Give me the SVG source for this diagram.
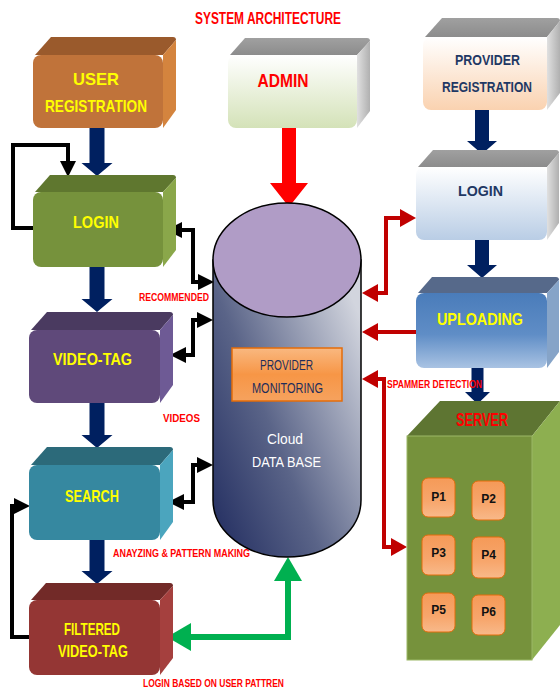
<svg xmlns="http://www.w3.org/2000/svg" width="560" height="691" viewBox="0 0 560 691">
<style>
.t{font-family:"Liberation Sans",Arial,sans-serif;text-anchor:middle}
.y{fill:#FFFF00;font-size:17px;font-weight:bold}
.nv{fill:#1F3864;font-size:15px;font-weight:bold}
.lbl{font-family:"Liberation Sans",Arial,sans-serif;fill:#FF0000;font-size:10px;font-weight:bold}
.p{font-family:"Liberation Sans",Arial,sans-serif;font-size:12px;font-weight:bold;fill:#111;text-anchor:middle}
.nav{fill:#002060}
.blk{fill:none;stroke:#000;stroke-width:4}
.red{fill:none;stroke:#C00000;stroke-width:4}
.grn{fill:none;stroke:#00B050;stroke-width:6}
.pb{fill:url(#gP);stroke:#E46C0A;stroke-width:1}
</style>
<defs>
<marker id="mb" viewBox="0 0 16 16" refX="8" refY="8" markerWidth="16" markerHeight="16" markerUnits="userSpaceOnUse" orient="auto-start-reverse"><path d="M0,0 L16,8 L0,16 Z" fill="#000"/></marker>
<marker id="mr" viewBox="0 0 16 18" refX="8" refY="9" markerWidth="16" markerHeight="18" markerUnits="userSpaceOnUse" orient="auto-start-reverse"><path d="M0,0 L16,9 L0,18 Z" fill="#C00000"/></marker>
<marker id="mg" viewBox="0 0 24 28" refX="12" refY="14" markerWidth="24" markerHeight="28" markerUnits="userSpaceOnUse" orient="auto-start-reverse"><path d="M0,0 L24,14 L0,28 Z" fill="#00B050"/></marker>
<linearGradient id="gAdmin" x1="0" y1="0" x2="0" y2="1"><stop offset="0" stop-color="#FFFFFF"/><stop offset="1" stop-color="#D4E2B8"/></linearGradient>
<linearGradient id="gPR" x1="0" y1="0" x2="0" y2="1"><stop offset="0" stop-color="#FFFFFF"/><stop offset="1" stop-color="#FAD2B0"/></linearGradient>
<linearGradient id="gLR" x1="0" y1="0" x2="0" y2="1"><stop offset="0" stop-color="#FFFFFF"/><stop offset="1" stop-color="#B9CDE5"/></linearGradient>
<linearGradient id="gUp" x1="0" y1="0" x2="0" y2="1"><stop offset="0" stop-color="#4A7CBA"/><stop offset="0.55" stop-color="#5F8DC6"/><stop offset="1" stop-color="#A9C3E3"/></linearGradient>
<linearGradient id="gGreyTop" x1="0" y1="0" x2="0" y2="1"><stop offset="0" stop-color="#A0A0A0"/><stop offset="1" stop-color="#8C8C8C"/></linearGradient>
<linearGradient id="gGreySide" x1="0" y1="0" x2="1" y2="0"><stop offset="0" stop-color="#E0E0E0"/><stop offset="1" stop-color="#B0B0B0"/></linearGradient>
<linearGradient id="gCyl" x1="0" y1="1" x2="1" y2="0.2"><stop offset="0" stop-color="#1F2A5E"/><stop offset="0.45" stop-color="#5A6488"/><stop offset="1" stop-color="#D2D5DE"/></linearGradient>
<linearGradient id="gMon" x1="0" y1="0" x2="0" y2="1"><stop offset="0" stop-color="#F9B880"/><stop offset="0.5" stop-color="#F79646"/><stop offset="1" stop-color="#F6A25E"/></linearGradient>
<linearGradient id="gP" x1="0" y1="0" x2="0" y2="1"><stop offset="0" stop-color="#F59A58"/><stop offset="0.6" stop-color="#F7A66C"/><stop offset="1" stop-color="#F8B98A"/></linearGradient>
</defs>

<text x="268" y="24" font-family="'Liberation Sans',Arial,sans-serif" font-size="16" font-weight="bold" fill="#FF0000" text-anchor="middle" textLength="146" lengthAdjust="spacingAndGlyphs">SYSTEM ARCHITECTURE</text>

<g id="connectors">
<path class="nav" d="M89.5,128 L104.5,128 L104.5,163 L112.5,163 L97,176 L81.5,163 L89.5,163 Z"/>
<path class="nav" d="M89.5,267 L104.5,267 L104.5,299 L112.5,299 L97,312 L81.5,299 L89.5,299 Z"/>
<path class="nav" d="M89.5,403 L104.5,403 L104.5,435 L112.5,435 L97,448 L81.5,435 L89.5,435 Z"/>
<path class="nav" d="M89.5,540 L104.5,540 L104.5,571 L112.5,571 L97,584 L81.5,571 L89.5,571 Z"/>
<path class="nav" d="M475,110 L489,110 L489,141 L497,141 L482,154 L467,141 L475,141 Z"/>
<path class="nav" d="M475,240 L489,240 L489,265 L497,265 L482,278 L467,265 L475,265 Z"/>
<path class="nav" d="M471.5,368 L483.5,368 L483.5,392 L490,392 L477.5,404 L465,392 L471.5,392 Z"/>
<path fill="#FF0000" d="M282,128 L296,128 L296,183 L308,183 L289,207 L270,183 L282,183 Z"/>
<path class="blk" d="M174,230 L193,230 L193,282 L206,282" marker-start="url(#mb)" marker-end="url(#mb)"/>
<path class="blk" d="M205,320 L193,320 L193,355 L178,355" marker-start="url(#mb)" marker-end="url(#mb)"/>
<path class="blk" d="M205,465 L193,465 L193,502 L176,502" marker-start="url(#mb)" marker-end="url(#mb)"/>
<path class="blk" d="M33,228 L13,228 L13,145 L68,145 L68,169" marker-end="url(#mb)"/>
<path class="blk" d="M29,637 L12,637 L12,506 L22,506" marker-end="url(#mb)"/>
<path class="red" d="M370,293 L386,293 L386,218 L408,218" marker-start="url(#mr)" marker-end="url(#mr)"/>
<path class="red" d="M416,332 L370,332" marker-end="url(#mr)"/>
<path class="red" d="M370,379 L384,379 L384,547 L399,547" marker-start="url(#mr)" marker-end="url(#mr)"/>
<path class="grn" d="M288,569 L288,637 L179,637" marker-start="url(#mg)" marker-end="url(#mg)"/>
<text class="lbl" x="139" y="301" textLength="70" lengthAdjust="spacingAndGlyphs">RECOMMENDED</text>
<text class="lbl" x="163" y="422" textLength="37" lengthAdjust="spacingAndGlyphs">VIDEOS</text>
<text class="lbl" x="113" y="557" textLength="137" lengthAdjust="spacingAndGlyphs">ANAYZING &amp; PATTERN  MAKING</text>
<text class="lbl" x="143" y="687" textLength="141" lengthAdjust="spacingAndGlyphs">LOGIN BASED  ON USER PATTREN</text>
<text class="lbl" x="387" y="388" font-weight="normal" textLength="95" lengthAdjust="spacingAndGlyphs">SPAMMER DETECTION</text>
</g>

<g id="user-registration">
<path d="M35,55 L51,37 L173,37 Q176,37 176,40 L163,55 Z" fill="#9A5A2C"/>
<path d="M163,55 L176,40 L176,110 L163,128 Z" fill="#D4843E"/>
<rect x="33" y="55" width="130" height="73" rx="8" fill="#C0733A"/>
<text class="t y" x="96" y="85" textLength="46" lengthAdjust="spacingAndGlyphs">USER</text>
<text class="t y" x="96" y="112" textLength="102" lengthAdjust="spacingAndGlyphs">REGISTRATION</text>
</g>

<g id="login-user">
<path d="M35,192 L50,175 L173,175 Q176,175 176,178 L163,192 Z" fill="#5F772F"/>
<path d="M163,192 L176,178 L176,250 L163,267 Z" fill="#8AA74A"/>
<rect x="33" y="192" width="130" height="75" rx="8" fill="#76923C"/>
<text class="t y" x="96" y="228" textLength="46" lengthAdjust="spacingAndGlyphs">LOGIN</text>
</g>

<g id="video-tag">
<path d="M31,330 L47,312 L170,312 Q173,312 173,315 L160,330 Z" fill="#4A3A60"/>
<path d="M160,330 L173,315 L173,385 L160,403 Z" fill="#6E5A95"/>
<rect x="29" y="330" width="131" height="73" rx="8" fill="#5F497A"/>
<text class="t y" x="92.5" y="365" textLength="79" lengthAdjust="spacingAndGlyphs">VIDEO-TAG</text>
</g>

<g id="search">
<path d="M31,465 L47,447 L170,447 Q173,447 173,450 L160,465 Z" fill="#2C6A7A"/>
<path d="M160,465 L173,450 L173,522 L160,540 Z" fill="#4BA5BE"/>
<rect x="29" y="465" width="131" height="75" rx="8" fill="#3688A0"/>
<text class="t y" x="92" y="502" textLength="54" lengthAdjust="spacingAndGlyphs">SEARCH</text>
</g>

<g id="filtered-video-tag">
<path d="M31,600 L46,583 L170,583 Q173,583 173,586 L160,600 Z" fill="#722A28"/>
<path d="M160,600 L173,586 L173,658 L160,675 Z" fill="#A5403E"/>
<rect x="29" y="600" width="131" height="75" rx="8" fill="#943634"/>
<text class="t y" x="92" y="635" textLength="56" lengthAdjust="spacingAndGlyphs">FILTERED</text>
<text class="t y" x="93" y="657" textLength="70" lengthAdjust="spacingAndGlyphs">VIDEO-TAG</text>
</g>

<g id="admin">
<path d="M230,55 L245,38 L367,38 Q370,38 370,41 L357,55 Z" fill="url(#gGreyTop)"/>
<path d="M357,55 L370,41 L370,111 L357,128 Z" fill="url(#gGreySide)"/>
<rect x="228" y="55" width="129" height="73" rx="8" fill="url(#gAdmin)"/>
<text class="t" x="283" y="87" font-size="19" font-weight="bold" fill="#FF0000" textLength="51" lengthAdjust="spacingAndGlyphs">ADMIN</text>
</g>

<g id="cloud-database">
<path d="M213,260 L213,500 A74,57 0 0 0 361,500 L361,260 Z" fill="url(#gCyl)" stroke="#000" stroke-width="1.5"/>
<ellipse cx="287" cy="260" rx="74" ry="57" fill="#B09CC6" stroke="#000" stroke-width="1.5"/>
<rect x="232" y="348" width="110" height="53" fill="url(#gMon)" stroke="#E46C0A" stroke-width="1.5"/>
<text class="t" x="286.5" y="370" font-size="14" fill="#1F2D5A" textLength="53" lengthAdjust="spacingAndGlyphs">PROVIDER</text>
<text class="t" x="287.5" y="393" font-size="14" fill="#1F2D5A" textLength="71" lengthAdjust="spacingAndGlyphs">MONITORING</text>
<text class="t" x="285" y="444" font-size="15" fill="#FFFFFF" textLength="36" lengthAdjust="spacingAndGlyphs">Cloud</text>
<text class="t" x="286.5" y="467" font-size="15" fill="#FFFFFF" textLength="69" lengthAdjust="spacingAndGlyphs">DATA BASE</text>
</g>

<g id="provider-registration">
<path d="M425,37 L442,18 L557,18 Q560,18 560,21 L547,37 Z" fill="url(#gGreyTop)"/>
<path d="M547,37 L560,21 L560,93 L547,110 Z" fill="url(#gGreySide)"/>
<rect x="423" y="37" width="124" height="73" rx="8" fill="url(#gPR)"/>
<text class="t nv" x="487.5" y="65" textLength="65" lengthAdjust="spacingAndGlyphs">PROVIDER</text>
<text class="t nv" x="487" y="92" textLength="90" lengthAdjust="spacingAndGlyphs">REGISTRATION</text>
</g>

<g id="login-provider">
<path d="M418,167 L433,150 L556,150 Q559,150 559,153 L547,167 Z" fill="url(#gGreyTop)"/>
<path d="M547,167 L559,153 L559,223 L547,240 Z" fill="url(#gGreySide)"/>
<rect x="416" y="167" width="131" height="73" rx="8" fill="url(#gLR)"/>
<text class="t nv" x="480.5" y="196" font-size="17" textLength="45" lengthAdjust="spacingAndGlyphs">LOGIN</text>
</g>

<g id="uploading">
<path d="M418,293 L432,277 L556,277 Q559,277 559,280 L547,293 Z" fill="#56698A"/>
<path d="M547,293 L559,280 L559,352 L547,368 Z" fill="#86A4C8"/>
<rect x="416" y="293" width="131" height="75" rx="8" fill="url(#gUp)"/>
<text class="t y" x="480" y="325" textLength="86" lengthAdjust="spacingAndGlyphs">UPLOADING</text>
</g>

<g id="server">
<path d="M407,436 L440,401 L560,401 L532,436 Z" fill="#5E7532"/>
<path d="M532,436 L560,401 L560,625 L532,660 Z" fill="#8DAF50"/>
<rect x="407" y="436" width="125" height="224" fill="#76923C" stroke="#9BB866" stroke-width="1"/>
<text class="t" x="482" y="426" font-size="18" font-weight="bold" fill="#FF0000" textLength="52" lengthAdjust="spacingAndGlyphs">SERVER</text>
</g>

<g id="p1"><rect class="pb" x="422" y="478" width="33" height="39" rx="6"/><text class="p" x="438.5" y="501">P1</text></g>
<g id="p2"><rect class="pb" x="472" y="481" width="33" height="39" rx="6"/><text class="p" x="488.5" y="503">P2</text></g>
<g id="p3"><rect class="pb" x="422" y="535" width="33" height="40" rx="6"/><text class="p" x="438.5" y="557">P3</text></g>
<g id="p4"><rect class="pb" x="472" y="537" width="33" height="41" rx="6"/><text class="p" x="488.5" y="559">P4</text></g>
<g id="p5"><rect class="pb" x="422" y="593" width="33" height="39" rx="6"/><text class="p" x="438.5" y="614">P5</text></g>
<g id="p6"><rect class="pb" x="472" y="595" width="33" height="40" rx="6"/><text class="p" x="488.5" y="616">P6</text></g>
</svg>
